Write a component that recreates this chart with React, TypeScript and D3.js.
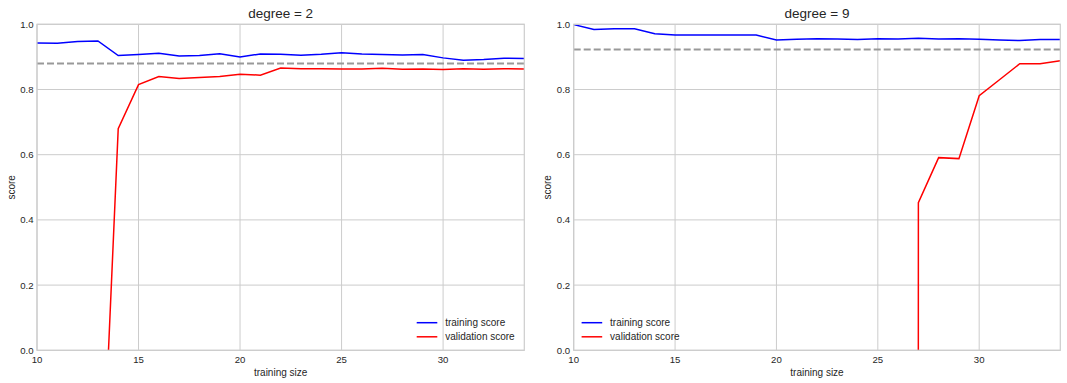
import React from "react";
import * as d3 from "d3";

const trainSizes = [10, 11, 12, 13, 14, 15, 16, 17, 18, 19, 20, 21, 22, 23, 24, 25, 26, 27, 28, 29, 30, 31, 32, 33, 34];

const train2 = [0.943, 0.942, 0.947, 0.949, 0.904, 0.907, 0.911, 0.903, 0.904, 0.910, 0.900, 0.909, 0.908, 0.905, 0.908, 0.913, 0.909, 0.907, 0.906, 0.907, 0.897, 0.890, 0.892, 0.896, 0.895];
const val2 = [-9.5, -4.8, -2.3, -0.74, 0.68, 0.815, 0.840, 0.834, 0.837, 0.840, 0.847, 0.844, 0.866, 0.864, 0.864, 0.863, 0.863, 0.865, 0.862, 0.863, 0.861, 0.864, 0.862, 0.864, 0.863];

const train9 = [0.999, 0.984, 0.986, 0.986, 0.971, 0.967, 0.967, 0.967, 0.967, 0.967, 0.952, 0.954, 0.956, 0.955, 0.953, 0.956, 0.955, 0.957, 0.955, 0.956, 0.954, 0.952, 0.950, 0.953, 0.953];
const val9 = [-2400, -1900, -1500, -1250, -1100, -950, -820, -700, -640, -560, -500, -450, -400, -360, -320, -290, -260, 0.453, 0.591, 0.588, 0.781, 0.830, 0.879, 0.879, 0.888];

const refScores = [0.88, 0.923];
const degrees = [2, 9];
const xTicks = [10, 15, 20, 25, 30];
const yTicks = [0.0, 0.2, 0.4, 0.6, 0.8, 1.0];
const legendLabels = ["training score", "validation score"];

const FONT = "'Liberation Sans', Arial, sans-serif";
const TEXT = "#262626";
const GRID = "#cccccc";

const panels = [
  { left: 37, right: 524.3, train: train2, val: val2, ref: refScores[0], deg: degrees[0], legendX: 416.7 },
  { left: 573.7, right: 1060.3, train: train9, val: val9, ref: refScores[1], deg: degrees[1], legendX: 581.6 },
];
const TOP = 24.3;
const BOTTOM = 350.3;

function Panel({ p, idx }: { p: typeof panels[0]; idx: number }) {
  const x = d3.scaleLinear().domain([10, 34]).range([p.left, p.right]);
  const y = d3.scaleLinear().domain([0, 1]).range([BOTTOM, TOP]);
  const line = d3
    .line<number>()
    .x((_, i) => x(trainSizes[i]))
    .y((d) => y(d));
  const clipId = `clip${idx}`;
  const cx = (p.left + p.right) / 2;
  return (
    <g>
      <defs>
        <clipPath id={clipId}>
          <rect x={p.left} y={TOP} width={p.right - p.left} height={BOTTOM - TOP} />
        </clipPath>
      </defs>
      {xTicks.map((t) => (
        <line key={"gx" + t} x1={x(t)} x2={x(t)} y1={TOP} y2={BOTTOM} stroke={GRID} strokeWidth={1} />
      ))}
      {yTicks.map((t) => (
        <line key={"gy" + t} x1={p.left} x2={p.right} y1={y(t)} y2={y(t)} stroke={GRID} strokeWidth={1} />
      ))}
      <g clipPath={`url(#${clipId})`}>
        <line x1={x(10)} x2={x(34)} y1={y(p.ref)} y2={y(p.ref)} stroke="#999999" strokeWidth={2} strokeDasharray="7 3" />
        <path d={line(p.train) || ""} fill="none" stroke="blue" strokeWidth={1.5} />
        <path d={line(p.val) || ""} fill="none" stroke="red" strokeWidth={1.5} />
      </g>
      <rect x={p.left} y={TOP} width={p.right - p.left} height={BOTTOM - TOP} fill="none" stroke={GRID} strokeWidth={1.2} />
      {xTicks.map((t) => (
        <text key={"tx" + t} x={x(t)} y={363} textAnchor="middle" fontSize={9.6} fontFamily={FONT} fill={TEXT}>
          {t}
        </text>
      ))}
      {yTicks.map((t) => (
        <text key={"ty" + t} x={p.left - 3.5} y={y(t) + 3.5} textAnchor="end" fontSize={9.6} fontFamily={FONT} fill={TEXT}>
          {t.toFixed(1)}
        </text>
      ))}
      <text x={cx} y={375.5} textAnchor="middle" fontSize={10} fontFamily={FONT} fill={TEXT}>
        training size
      </text>
      <text
        transform={`translate(${p.left - 22.5},${(TOP + BOTTOM) / 2}) rotate(-90)`}
        textAnchor="middle"
        fontSize={10}
        fontFamily={FONT}
        fill={TEXT}
      >
        score
      </text>
      <text x={cx} y={18} textAnchor="middle" fontSize={13.5} fontFamily={FONT} fill={TEXT}>
        {`degree = ${p.deg}`}
      </text>
      {legendLabels.map((lab, i) => {
        const ly = 322.7 + i * 14.1;
        return (
          <g key={lab}>
            <line x1={p.legendX} x2={p.legendX + 20.6} y1={ly} y2={ly} stroke={i === 0 ? "blue" : "red"} strokeWidth={1.5} />
            <text x={p.legendX + 28.5} y={ly + 3.5} fontSize={10} fontFamily={FONT} fill={TEXT}>
              {lab}
            </text>
          </g>
        );
      })}
    </g>
  );
}

export default function App() {
  return (
    <svg width={1067} height={383} style={{ position: "absolute", left: 0, top: 0, background: "white" }}>
      <rect x={0} y={0} width={1067} height={383} fill="white" />
      {panels.map((p, i) => (
        <Panel key={i} p={p} idx={i} />
      ))}
    </svg>
  );
}
